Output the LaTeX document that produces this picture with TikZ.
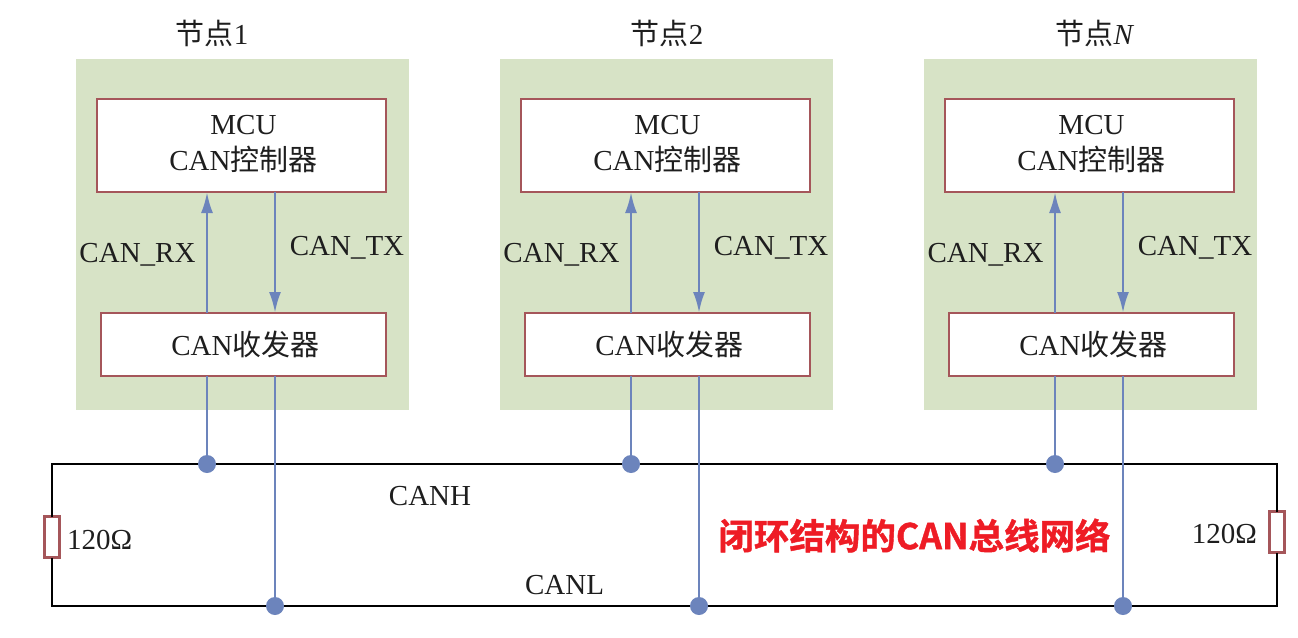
\documentclass[tikz,border=0pt]{standalone}
\usepackage{fontspec}
\setmainfont{Liberation Serif}
\newfontfamily\cjk{Noto Sans CJK SC}
\newfontfamily\cjkbold[FakeBold=1.2]{Noto Sans CJK SC Bold}
\usetikzlibrary{arrows.meta}
\definecolor{panelgreen}{HTML}{D7E3C6}
\definecolor{boxred}{HTML}{A5565A}
\definecolor{wireblue}{HTML}{6C84BC}
\definecolor{inkblack}{HTML}{1E1E1E}
\definecolor{slogan}{HTML}{EE1C25}
\tikzset{
  x=1pt,y=-1pt,
  every node/.style={text=inkblack,font=\fontsize{29}{36}\selectfont},
  panel/.style={fill=panelgreen,draw=none,anchor=north west,inner sep=0pt,outer sep=0pt,minimum width=333pt,minimum height=351pt},
  redbox/.style={fill=white,draw=boxred,line width=2.6pt,anchor=north west,inner sep=0pt,outer sep=0pt,align=center},
  wire/.style={draw=wireblue,line width=2.7pt},
  sig/.style={wire,-{Latex[length=21pt,width=12pt]}},
  bus/.style={draw=black,line width=2.9pt,line join=miter},
  busdot/.style={circle,fill=wireblue,draw=none,minimum size=18pt,inner sep=0pt,outer sep=0pt},
  resistor/.style={fill=white,draw=boxred,line width=3.4pt,minimum width=15pt,minimum height=41pt,inner sep=0pt,outer sep=0pt},
}
\begin{document}
\begin{tikzpicture}
\useasboundingbox (0,0) rectangle (1298,637);
% bus corners and terminating resistors
\coordinate (tl) at (52,464);
\coordinate (tr) at (1277,464);
\coordinate (bl) at (52,606);
\coordinate (br) at (1277,606);
\node[resistor] (rl) at (52,537) {};
\node[resistor] (rr) at (1277,532) {};
\draw[bus] (rl.north) -- (tl) -- (tr) -- (rr.north);
\draw[bus] (rl.south) -- (bl) -- (br) -- (rr.south);
\foreach \i/\dx/\tx/\lab in {1/0/212/1,2/424/667/2,3/848/1095/\textit{N}}{
  \node[panel] (p\i) at (76+\dx,59) {};
  \node (t\i) at (\tx,33) {{\cjk 节点}\lab};
  \node[redbox,minimum width=289pt,minimum height=93pt] (m\i) at (97+\dx,99) {};
  \node[align=center,inner sep=0pt] (mt\i) at (243.5+\dx,144.5) {MCU\\CAN{\cjk 控制器}};
  \node[redbox,minimum width=285pt,minimum height=63pt] (c\i) at (101+\dx,313) {};
  \node (ct\i) at (245.5+\dx,344) {CAN{\cjk 收发器}};
  \node[busdot] (h\i) at (207+\dx,464) {};
  \node[busdot] (l\i) at (275+\dx,606) {};
  \draw[sig] (c\i.north -| h\i) -- (m\i.south -| h\i);
  \draw[sig] (m\i.south -| l\i) -- (c\i.north -| l\i);
  \draw[wire] (c\i.south -| h\i) -- (h\i);
  \draw[wire] (c\i.south -| l\i) -- (l\i);
  \node (rx\i) at (137.5+\dx,255) {CAN\_RX};
  \node (tx\i) at (347+\dx,248) {CAN\_TX};
}
\node (canh) at (430,496) {CANH};
\node (canl) at (564.5,585) {CANL};
\node[anchor=west,inner sep=0pt] (ol) at (67,540) {120Ω};
\node[anchor=east,inner sep=0pt] (or) at (1257,534) {120Ω};
\node[inner sep=0pt,text=slogan,font=\fontsize{35.5}{40}\selectfont\cjkbold] (title) at (914.5,535.5) {闭环结构的CAN总线网络};
\end{tikzpicture}
\end{document}
